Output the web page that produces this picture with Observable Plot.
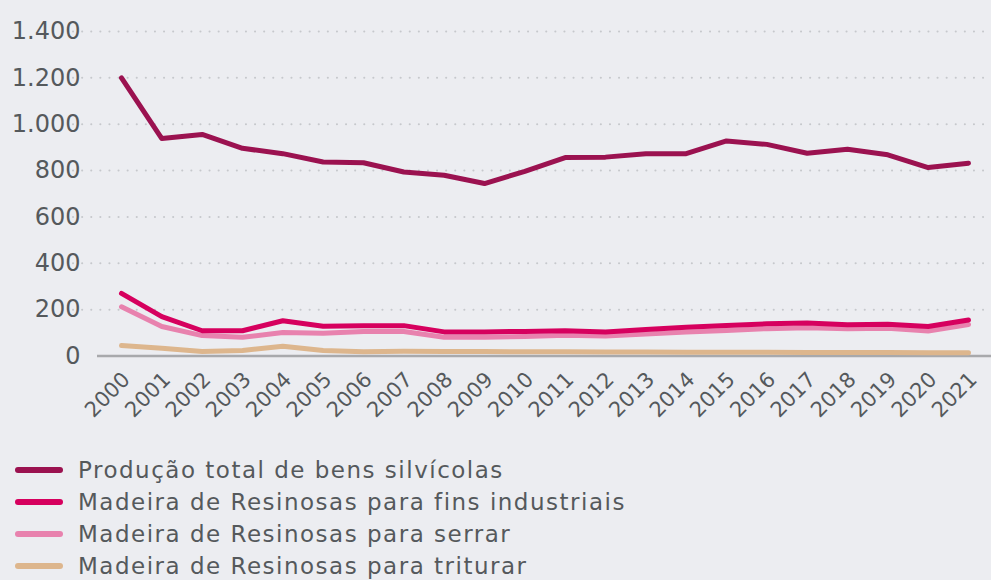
<!DOCTYPE html>
<html><head><meta charset="utf-8">
<script src="https://cdn.jsdelivr.net/npm/d3@7"></script>
<script src="https://cdn.jsdelivr.net/npm/@observablehq/plot@0.6"></script>
<style>
html,body{margin:0;padding:0;background:#ECEDF1;}
body{width:991px;height:580px;overflow:hidden;font-family:"DejaVu Sans",sans-serif;}
#legend{position:absolute;left:15px;top:454px;}
.li{display:flex;align-items:center;height:32px;font-size:23px;letter-spacing:1.5px;color:#55595C;}
.sw{width:48px;height:6px;border-radius:3px;margin-right:15px;}
</style></head><body>
<div id="chart"></div>
<div id="legend"></div>
<script>
const years = [2000,2001,2002,2003,2004,2005,2006,2007,2008,2009,2010,2011,2012,2013,2014,2015,2016,2017,2018,2019,2020,2021];
const seriesNames = ["Produção total de bens silvícolas","Madeira de Resinosas para fins industriais","Madeira de Resinosas para serrar","Madeira de Resinosas para triturar"];
const seriesColors = ["#9B1250","#D6005E","#E882AE","#DDB68D"];
const total = [1200,938,956,896,873,837,834,794,780,744,797,856,858,873,873,928,913,875,892,868,813,832];
const industriais = [270,170,109,109,152,128,131,131,104,104,106,109,104,114,124,132,139,142,135,137,127,155];
const serrar = [212,127,88,81,101,98,106,106,81,81,84,89,86,95,103,110,118,122,118,120,108,136];
const triturar = [45,33,19,24,42,24,18,20,19,19,18,18,17,17,16,16,16,15,15,15,14,14];
const yTicks = [0,200,400,600,800,1000,1200,1400];
const yTickLabels = ["0","200","400","600","800","1.000","1.200","1.400"];

const values = [total, industriais, serrar, triturar];
const data = [];
for (let s = values.length - 1; s >= 0; s--) {
  years.forEach((y, i) => data.push({year: y, value: values[s][i], series: seriesNames[s]}));
}

const chart = Plot.plot({
  width: 991, height: 440,
  marginLeft: 97, marginRight: 0, marginTop: 31, marginBottom: 84.5,
  insetLeft: 24, insetRight: 23,
  style: {background: "transparent", fontFamily: "'DejaVu Sans', sans-serif", color: "#55595C"},
  x: {type: "linear", domain: [2000, 2021]},
  y: {domain: [0, 1400]},
  color: {domain: seriesNames, range: seriesColors},
  marks: [
    Plot.ruleY(yTicks.filter(d => d > 0), {stroke: "#C6C8CC", strokeWidth: 2, strokeDasharray: "0.1,9", strokeLinecap: "round", insetLeft: -24, insetRight: -23}),
    Plot.ruleY([0], {stroke: "#A8A9AC", strokeWidth: 2.5}),
    Plot.axisY({ticks: yTicks, tickFormat: (d) => yTickLabels[yTicks.indexOf(d)], tickSize: 0, tickPadding: 17, fontSize: 24, label: null, fill: "#55595C"}),
    Plot.axisX({ticks: years, tickFormat: d => String(d), tickSize: 0, tickPadding: 20, dx: 5, tickRotate: -45, fontSize: 21, label: null, fill: "#55595C"}),
    Plot.line(data, {x: "year", y: "value", z: "series", stroke: "series", strokeWidth: 5, strokeLinecap: "round", strokeLinejoin: "round"})
  ]
});
document.getElementById("chart").appendChild(chart);

const leg = document.getElementById("legend");
seriesNames.forEach((n, i) => {
  const row = document.createElement("div"); row.className = "li";
  const sw = document.createElement("div"); sw.className = "sw"; sw.style.background = seriesColors[i];
  const t = document.createElement("span"); t.textContent = n;
  row.appendChild(sw); row.appendChild(t); leg.appendChild(row);
});
</script>
</body></html>
